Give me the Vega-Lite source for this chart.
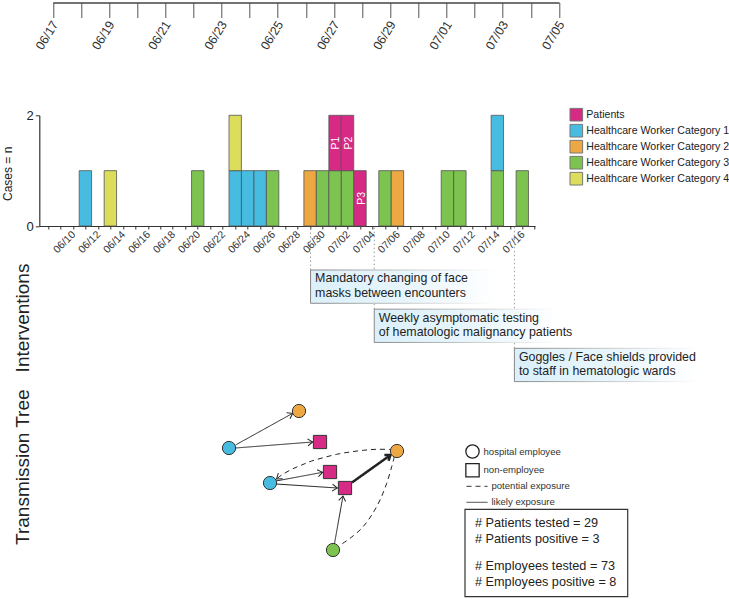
{
  "$schema": "https://vega.github.io/schema/vega-lite/v6.json",
  "width": 495.8,
  "height": 110.7,
  "autosize": {"type": "none"},
  "padding": {"left": 39.3, "top": 115.3, "right": 193.9, "bottom": 373},
  "config": {"font": "Liberation Sans", "view": {"stroke": null}, "axis": {"grid": false}},
  "datasets": {
    "cases": [
      {"date": "2020-06-11T00:00:00", "category": "Healthcare Worker Category 1", "cases": 1, "label": ""},
      {"date": "2020-06-13T00:00:00", "category": "Healthcare Worker Category 4", "cases": 1, "label": ""},
      {"date": "2020-06-20T00:00:00", "category": "Healthcare Worker Category 3", "cases": 1, "label": ""},
      {"date": "2020-06-23T00:00:00", "category": "Healthcare Worker Category 1", "cases": 1, "label": ""},
      {"date": "2020-06-23T00:00:00", "category": "Healthcare Worker Category 4", "cases": 1, "label": ""},
      {"date": "2020-06-24T00:00:00", "category": "Healthcare Worker Category 1", "cases": 1, "label": ""},
      {"date": "2020-06-25T00:00:00", "category": "Healthcare Worker Category 1", "cases": 1, "label": ""},
      {"date": "2020-06-26T00:00:00", "category": "Healthcare Worker Category 3", "cases": 1, "label": ""},
      {"date": "2020-06-29T00:00:00", "category": "Healthcare Worker Category 2", "cases": 1, "label": ""},
      {"date": "2020-06-30T00:00:00", "category": "Healthcare Worker Category 3", "cases": 1, "label": ""},
      {"date": "2020-07-01T00:00:00", "category": "Healthcare Worker Category 3", "cases": 1, "label": ""},
      {"date": "2020-07-01T00:00:00", "category": "Patients", "cases": 1, "label": "P1"},
      {"date": "2020-07-02T00:00:00", "category": "Healthcare Worker Category 3", "cases": 1, "label": ""},
      {"date": "2020-07-02T00:00:00", "category": "Patients", "cases": 1, "label": "P2"},
      {"date": "2020-07-03T00:00:00", "category": "Patients", "cases": 1, "label": "P3"},
      {"date": "2020-07-05T00:00:00", "category": "Healthcare Worker Category 3", "cases": 1, "label": ""},
      {"date": "2020-07-06T00:00:00", "category": "Healthcare Worker Category 2", "cases": 1, "label": ""},
      {"date": "2020-07-10T00:00:00", "category": "Healthcare Worker Category 3", "cases": 1, "label": ""},
      {"date": "2020-07-11T00:00:00", "category": "Healthcare Worker Category 3", "cases": 1, "label": ""},
      {"date": "2020-07-14T00:00:00", "category": "Healthcare Worker Category 3", "cases": 1, "label": ""},
      {"date": "2020-07-14T00:00:00", "category": "Healthcare Worker Category 1", "cases": 1, "label": ""},
      {"date": "2020-07-16T00:00:00", "category": "Healthcare Worker Category 3", "cases": 1, "label": ""}
    ],
    "interventions": [
      {"date": "2020-06-29T00:00:00", "step": 1, "text": ["Mandatory changing of face", "masks between encounters"]},
      {"date": "2020-07-04T00:00:00", "step": 2, "text": ["Weekly asymptomatic testing", "of hematologic malignancy patients"]},
      {"date": "2020-07-15T00:00:00", "step": 3, "text": ["Goggles / Face shields provided", "to staff in hematologic wards"]}
    ],
    "nodes": [
      {"id": "A", "x": 9, "y": 88, "category": "Healthcare Worker Category 1", "type": "hospital employee"},
      {"id": "B", "x": 79, "y": 51, "category": "Healthcare Worker Category 2", "type": "hospital employee"},
      {"id": "C", "x": 100, "y": 82, "category": "Patients", "type": "non-employee"},
      {"id": "D", "x": 50, "y": 123, "category": "Healthcare Worker Category 1", "type": "hospital employee"},
      {"id": "E", "x": 110, "y": 112, "category": "Patients", "type": "non-employee"},
      {"id": "F", "x": 125, "y": 128, "category": "Patients", "type": "non-employee"},
      {"id": "G", "x": 177, "y": 91, "category": "Healthcare Worker Category 2", "type": "hospital employee"},
      {"id": "H", "x": 113, "y": 190, "category": "Healthcare Worker Category 3", "type": "hospital employee"}
    ],
    "edges": [
      {"edge": "A-B", "seq": 1, "x": 15.5, "y": 85, "kind": "likely exposure", "strength": "normal", "directed": true},
      {"edge": "A-B", "seq": 2, "x": 72.7, "y": 53.3, "kind": "likely exposure", "strength": "normal", "directed": true},
      {"edge": "A-C", "seq": 1, "x": 15.5, "y": 88, "kind": "likely exposure", "strength": "normal", "directed": true},
      {"edge": "A-C", "seq": 2, "x": 92.7, "y": 82, "kind": "likely exposure", "strength": "normal", "directed": true},
      {"edge": "D-E", "seq": 1, "x": 56, "y": 121, "kind": "likely exposure", "strength": "normal", "directed": true},
      {"edge": "D-E", "seq": 2, "x": 102.7, "y": 112.3, "kind": "likely exposure", "strength": "normal", "directed": true},
      {"edge": "D-F", "seq": 1, "x": 56, "y": 124, "kind": "likely exposure", "strength": "normal", "directed": true},
      {"edge": "D-F", "seq": 2, "x": 117.3, "y": 128, "kind": "likely exposure", "strength": "normal", "directed": true},
      {"edge": "H-F", "seq": 1, "x": 114.5, "y": 183.5, "kind": "likely exposure", "strength": "normal", "directed": true},
      {"edge": "H-F", "seq": 2, "x": 123, "y": 136, "kind": "likely exposure", "strength": "normal", "directed": true},
      {"edge": "F-G", "seq": 1, "x": 132, "y": 122.5, "kind": "likely exposure", "strength": "strong", "directed": true},
      {"edge": "F-G", "seq": 2, "x": 170.5, "y": 95, "kind": "likely exposure", "strength": "strong", "directed": true},
      {"edge": "G-D", "seq": 1, "x": 174, "y": 89.5, "kind": "potential exposure", "strength": "normal", "directed": true},
      {"edge": "G-D", "seq": 2, "x": 156.7, "y": 89.3, "kind": "potential exposure", "strength": "normal", "directed": true},
      {"edge": "G-D", "seq": 3, "x": 143.3, "y": 90.3, "kind": "potential exposure", "strength": "normal", "directed": true},
      {"edge": "G-D", "seq": 4, "x": 130, "y": 92, "kind": "potential exposure", "strength": "normal", "directed": true},
      {"edge": "G-D", "seq": 5, "x": 116.7, "y": 94.3, "kind": "potential exposure", "strength": "normal", "directed": true},
      {"edge": "G-D", "seq": 6, "x": 103.3, "y": 97.7, "kind": "potential exposure", "strength": "normal", "directed": true},
      {"edge": "G-D", "seq": 7, "x": 91.7, "y": 101, "kind": "potential exposure", "strength": "normal", "directed": true},
      {"edge": "G-D", "seq": 8, "x": 81.7, "y": 105, "kind": "potential exposure", "strength": "normal", "directed": true},
      {"edge": "G-D", "seq": 9, "x": 71.7, "y": 109.3, "kind": "potential exposure", "strength": "normal", "directed": true},
      {"edge": "G-D", "seq": 10, "x": 61.7, "y": 115, "kind": "potential exposure", "strength": "normal", "directed": true},
      {"edge": "G-D", "seq": 11, "x": 56.5, "y": 119, "kind": "potential exposure", "strength": "normal", "directed": true},
      {"edge": "G-H", "seq": 1, "x": 174.3, "y": 96.7, "kind": "potential exposure", "strength": "normal", "directed": false},
      {"edge": "G-H", "seq": 2, "x": 171.7, "y": 106.7, "kind": "potential exposure", "strength": "normal", "directed": false},
      {"edge": "G-H", "seq": 3, "x": 166.7, "y": 123.3, "kind": "potential exposure", "strength": "normal", "directed": false},
      {"edge": "G-H", "seq": 4, "x": 160, "y": 140, "kind": "potential exposure", "strength": "normal", "directed": false},
      {"edge": "G-H", "seq": 5, "x": 151.7, "y": 155, "kind": "potential exposure", "strength": "normal", "directed": false},
      {"edge": "G-H", "seq": 6, "x": 141.7, "y": 168.3, "kind": "potential exposure", "strength": "normal", "directed": false},
      {"edge": "G-H", "seq": 7, "x": 130, "y": 178.3, "kind": "potential exposure", "strength": "normal", "directed": false},
      {"edge": "G-H", "seq": 8, "x": 121.7, "y": 184, "kind": "potential exposure", "strength": "normal", "directed": false}
    ],
    "stats": [
      {"group": "Patients", "tested": 29, "positive": 3},
      {"group": "Employees", "tested": 73, "positive": 8}
    ]
  },
  "resolve": {"scale": {"x": "independent", "y": "independent"}},
  "layer": [
    {
      "data": {"name": "cases"},
      "transform": [{"window": [{"op": "row_number", "as": "i"}]}],
      "mark": {"type": "bar", "width": 12.4, "stroke": "#555", "strokeWidth": 0.8},
      "encoding": {
        "x": {
          "field": "date", "type": "temporal",
          "scale": {"domain": [{"year": 2020, "month": 6, "date": 7, "hours": 17}, {"year": 2020, "month": 7, "date": 16, "hours": 15}]},
          "axis": {
            "orient": "bottom", "title": null,
            "tickCount": {"interval": "day", "step": 1},
            "labelExpr": "(date(datum.value) % 2 == 0 && datum.value >= datetime(2020, 5, 10)) ? timeFormat(datum.value, '%m/%d') : ''",
            "labelAngle": -45, "labelAlign": "right", "labelBaseline": "top", "labelOffset": -3,
            "labelFontSize": 10.5, "labelColor": "#333", "labelPadding": 0,
            "labelOverlap": false, "labelFlush": false, "labelBound": false,
            "tickSize": 3, "tickColor": "#333", "domainColor": "#333", "domainWidth": 1.2, "grid": false
          }
        },
        "y": {
          "field": "cases", "type": "quantitative", "stack": "zero",
          "scale": {"domain": [0, 2], "nice": false},
          "axis": {
            "orient": "left", "values": [0, 1, 2], "format": "d", "title": "Cases = n",
            "titleFontSize": 12, "titleFontWeight": "normal", "titleColor": "#222",
            "titleX": -27.6, "titleY": 58, "titleBaseline": "alphabetic", "titleAngle": 270,
            "labelFontSize": 13, "labelColor": "#222", "labelPadding": 2,
            "tickSize": 4, "tickColor": "#333", "domainColor": "#333", "domainWidth": 1.2, "grid": false
          }
        },
        "color": {
          "field": "category", "type": "nominal",
          "scale": {
            "domain": ["Patients", "Healthcare Worker Category 1", "Healthcare Worker Category 2", "Healthcare Worker Category 3", "Healthcare Worker Category 4"],
            "range": ["#d62a84", "#47bce0", "#eda843", "#7cc34f", "#dcdd5b"]
          },
          "legend": {
            "orient": "none", "legendX": 530, "legendY": -7.6, "title": null,
            "symbolType": "square", "symbolSize": 160, "symbolStrokeColor": "#777", "symbolStrokeWidth": 1,
            "labelFontSize": 10.6, "labelColor": "#222", "labelOffset": 3, "rowPadding": -2.6, "labelLimit": 0
          }
        },
        "order": {"field": "i", "type": "quantitative"}
      }
    },
    {
      "data": {"name": "cases"},
      "transform": [{"window": [{"op": "row_number", "as": "i"}]}],
      "mark": {"type": "text", "angle": 270, "color": "white", "fontSize": 10.5, "align": "center", "baseline": "middle"},
      "encoding": {
        "x": {
          "field": "date", "type": "temporal",
          "scale": {"domain": [{"year": 2020, "month": 6, "date": 7, "hours": 17}, {"year": 2020, "month": 7, "date": 16, "hours": 15}]},
          "axis": null
        },
        "y": {
          "field": "cases", "type": "quantitative", "stack": "zero", "bandPosition": 0.5,
          "scale": {"domain": [0, 2], "nice": false}, "axis": null
        },
        "detail": {"field": "category"},
        "order": {"field": "i", "type": "quantitative"},
        "text": {"field": "label"}
      }
    },
    {
      "data": {"values": [{"date": "2020-06-17T00:00:00"}, {"date": "2020-07-05T00:00:00"}]},
      "mark": {"type": "point", "opacity": 0},
      "encoding": {
        "x": {
          "field": "date", "type": "temporal",
          "scale": {"domain": [{"year": 2020, "month": 6, "date": 17}, {"year": 2020, "month": 7, "date": 5}], "range": [13.5, 519.7]},
          "axis": {
            "orient": "bottom", "offset": -223.5, "title": null,
            "tickCount": {"interval": "day", "step": 1},
            "labelExpr": "date(datum.value) % 2 == 1 ? timeFormat(datum.value, '%m/%d') : ''",
            "labelAngle": -58, "labelAlign": "right", "labelBaseline": "top", "labelOffset": -3,
            "labelFontSize": 12.5, "labelColor": "#333", "labelPadding": 1,
            "labelOverlap": false, "labelFlush": false, "labelBound": false,
            "tickSize": 15, "tickColor": "#555", "domainColor": "#444", "domainWidth": 1.5, "grid": false
          }
        }
      }
    },
    {
      "data": {"name": "interventions"},
      "mark": {"type": "rule", "strokeDash": [1.5, 2.5], "color": "#999", "strokeWidth": 1},
      "encoding": {
        "x": {
          "field": "date", "type": "temporal",
          "scale": {"domain": [{"year": 2020, "month": 6, "date": 7, "hours": 17}, {"year": 2020, "month": 7, "date": 16, "hours": 15}]},
          "axis": null
        },
        "y": {
          "field": "step", "type": "ordinal", "bandPosition": 0,
          "scale": {"type": "band", "domain": [1, 2, 3], "range": [154.7, 266.3], "paddingInner": 0.15, "paddingOuter": 0},
          "axis": {
            "orient": "left", "title": "Interventions", "domain": false, "ticks": false, "labels": false,
            "titleFontSize": 19, "titleFontWeight": "normal", "titleColor": "#222",
            "titleX": -11, "titleY": 202.2, "titleBaseline": "alphabetic", "titleAngle": 270
          }
        },
        "y2": {"value": "height"}
      }
    },
    {
      "data": {"name": "interventions"},
      "mark": {
        "type": "rect", "x2Offset": 185, "strokeWidth": 1,
        "fill": {"gradient": "linear", "x1": 0, "y1": 0, "x2": 1, "y2": 0, "stops": [{"offset": 0, "color": "#dbf0fa"}, {"offset": 0.55, "color": "#e9f6fc"}, {"offset": 1, "color": "#ffffff"}]},
        "stroke": {"gradient": "linear", "x1": 0, "y1": 0, "x2": 1, "y2": 0, "stops": [{"offset": 0, "color": "#888888"}, {"offset": 0.55, "color": "#cccccc"}, {"offset": 1, "color": "#ffffff"}]}
      },
      "encoding": {
        "x": {
          "field": "date", "type": "temporal",
          "scale": {"domain": [{"year": 2020, "month": 6, "date": 7, "hours": 17}, {"year": 2020, "month": 7, "date": 16, "hours": 15}]},
          "axis": null
        },
        "x2": {"field": "date"},
        "y": {
          "field": "step", "type": "ordinal",
          "scale": {"type": "band", "domain": [1, 2, 3], "range": [154.7, 266.3], "paddingInner": 0.15, "paddingOuter": 0},
          "axis": null
        }
      }
    },
    {
      "data": {"name": "interventions"},
      "mark": {"type": "text", "align": "left", "baseline": "middle", "dx": 4.5, "dy": 8.4, "fontSize": 12.4, "lineHeight": 14.2, "color": "#1e1e1e"},
      "encoding": {
        "x": {
          "field": "date", "type": "temporal",
          "scale": {"domain": [{"year": 2020, "month": 6, "date": 7, "hours": 17}, {"year": 2020, "month": 7, "date": 16, "hours": 15}]},
          "axis": null
        },
        "y": {
          "field": "step", "type": "ordinal", "bandPosition": 0,
          "scale": {"type": "band", "domain": [1, 2, 3], "range": [154.7, 266.3], "paddingInner": 0.15, "paddingOuter": 0},
          "axis": null
        },
        "text": {"field": "text"}
      }
    },
    {
      "data": {"name": "edges"},
      "mark": {"type": "line", "interpolate": "cardinal", "color": "#222"},
      "encoding": {
        "x": {"field": "x", "type": "quantitative", "scale": {"domain": [0, 420], "range": [180.7, 600.7], "nice": false, "zero": false}, "axis": null},
        "y": {"field": "y", "type": "quantitative", "scale": {"domain": [0, 240], "range": [244.7, 484.7], "nice": false, "zero": false}, "axis": null},
        "detail": {"field": "edge"},
        "order": {"field": "seq", "type": "quantitative"},
        "strokeDash": {
          "field": "kind", "type": "nominal",
          "scale": {"domain": ["potential exposure", "likely exposure"], "range": [[5, 4], [1, 0]]},
          "legend": {
            "orient": "none", "legendX": 426.7, "legendY": 360, "title": null,
            "symbolType": "stroke", "symbolSize": 441, "symbolStrokeColor": "#333", "symbolStrokeWidth": 1,
            "labelFontSize": 9.6, "labelColor": "#333", "labelOffset": 3.4, "rowPadding": -14
          }
        },
        "strokeWidth": {"field": "strength", "type": "nominal", "scale": {"domain": ["normal", "strong"], "range": [1, 2.5]}, "legend": null}
      }
    },
    {
      "data": {"name": "edges"},
      "transform": [
        {"window": [{"op": "lag", "field": "x", "as": "px"}, {"op": "lag", "field": "y", "as": "py"}], "groupby": ["edge"], "sort": [{"field": "seq", "order": "ascending"}]},
        {"joinaggregate": [{"op": "max", "field": "seq", "as": "last"}], "groupby": ["edge"]},
        {"filter": "datum.directed && datum.seq == datum.last"},
        {"calculate": "atan2(datum.y - datum.py, datum.x - datum.px) * 180 / PI", "as": "angle"}
      ],
      "mark": {"type": "point", "shape": "M-1,-0.7L0,0L-1,0.7", "filled": false, "stroke": "#222", "size": 100, "opacity": 1},
      "encoding": {
        "x": {"field": "x", "type": "quantitative", "scale": {"domain": [0, 420], "range": [180.7, 600.7], "nice": false, "zero": false}, "axis": null},
        "y": {"field": "y", "type": "quantitative", "scale": {"domain": [0, 240], "range": [244.7, 484.7], "nice": false, "zero": false}, "axis": null},
        "angle": {"field": "angle", "type": "quantitative", "scale": null},
        "strokeWidth": {"field": "strength", "type": "nominal", "scale": {"domain": ["normal", "strong"], "range": [1, 2.5]}, "legend": null}
      }
    },
    {
      "data": {"name": "nodes"},
      "mark": {"type": "point", "filled": true, "size": 175, "stroke": "#333", "strokeWidth": 1, "opacity": 1},
      "encoding": {
        "x": {"field": "x", "type": "quantitative", "scale": {"domain": [0, 420], "range": [180.7, 600.7], "nice": false, "zero": false}, "axis": null},
        "y": {
          "field": "y", "type": "quantitative", "scale": {"domain": [0, 240], "range": [244.7, 484.7], "nice": false, "zero": false},
          "axis": {
            "orient": "left", "title": "Transmission Tree", "domain": false, "ticks": false, "labels": false,
            "titleFontSize": 19, "titleFontWeight": "normal", "titleColor": "#222",
            "titleX": -11, "titleY": 351.4, "titleBaseline": "alphabetic", "titleAngle": 270
          }
        },
        "color": {
          "field": "category", "type": "nominal",
          "scale": {
            "domain": ["Patients", "Healthcare Worker Category 1", "Healthcare Worker Category 2", "Healthcare Worker Category 3", "Healthcare Worker Category 4"],
            "range": ["#d62a84", "#47bce0", "#eda843", "#7cc34f", "#dcdd5b"]
          },
          "legend": {
            "orient": "none", "legendX": 530, "legendY": -7.6, "title": null,
            "symbolType": "square", "symbolSize": 160, "symbolStrokeColor": "#777", "symbolStrokeWidth": 1,
            "labelFontSize": 10.6, "labelColor": "#222", "labelOffset": 3, "rowPadding": -2.6, "labelLimit": 0
          }
        },
        "shape": {
          "field": "type", "type": "nominal",
          "scale": {"domain": ["hospital employee", "non-employee"], "range": ["circle", "square"]},
          "legend": {
            "orient": "none", "legendX": 425.7, "legendY": 328.7, "title": null,
            "symbolSize": 177, "symbolFillColor": "white", "symbolStrokeColor": "#222", "symbolStrokeWidth": 1.3,
            "labelFontSize": 9.6, "labelColor": "#333", "labelOffset": 3.5, "rowPadding": -0.3
          }
        }
      }
    },
    {
      "data": {"values": [{"box": "testing summary"}]},
      "mark": {"type": "rect", "fill": "transparent", "stroke": "#333", "strokeWidth": 1.2},
      "encoding": {
        "x": {"datum": 245, "type": "quantitative", "scale": {"domain": [0, 420], "range": [180.7, 600.7], "nice": false, "zero": false}, "axis": null},
        "x2": {"datum": 407.7},
        "y": {"datum": 149.3, "type": "quantitative", "scale": {"domain": [0, 240], "range": [244.7, 484.7], "nice": false, "zero": false}, "axis": null},
        "y2": {"datum": 236.7}
      }
    },
    {
      "data": {"name": "stats"},
      "transform": [
        {"calculate": "['# ' + datum.group + ' tested = ' + datum.tested, '# ' + datum.group + ' positive = ' + datum.positive]", "as": "lines"}
      ],
      "mark": {"type": "text", "align": "left", "baseline": "middle", "fontSize": 12.7, "lineHeight": 16, "color": "#222"},
      "encoding": {
        "x": {"datum": 255, "type": "quantitative", "scale": {"domain": [0, 420], "range": [180.7, 600.7], "nice": false, "zero": false}, "axis": null},
        "y": {"field": "group", "type": "nominal", "sort": ["Patients", "Employees"], "scale": {"type": "point", "range": [408, 450.4], "padding": 0}, "axis": null},
        "text": {"field": "lines"}
      }
    }
  ]
}
